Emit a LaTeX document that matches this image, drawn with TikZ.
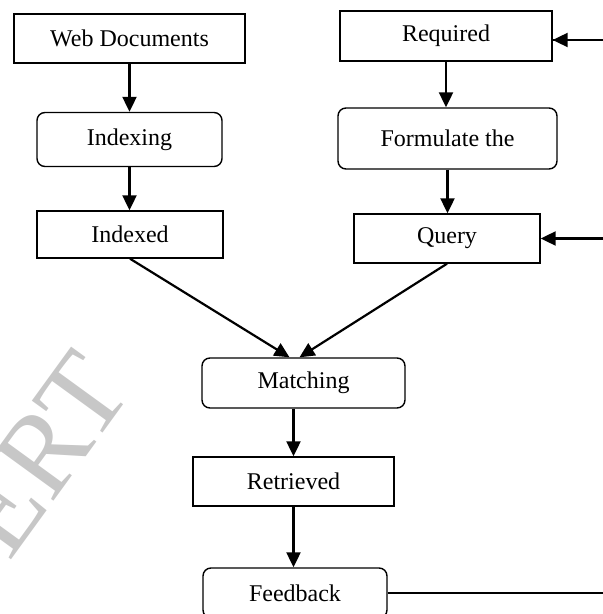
\documentclass[tikz,border=0pt]{standalone}
\usepackage{fontspec}
\setmainfont{Liberation Serif}
\usetikzlibrary{arrows.meta}

\begin{document}
\begin{tikzpicture}[x=0.5pt,y=-0.5pt,
    box/.style={draw,line width=0.7pt,minimum height=24.5pt,inner sep=0pt,
      font=\fontsize{12}{14}\selectfont},
    rbox/.style={box,rounded corners=4pt},
    flow/.style={line width=1.1pt,-{Triangle[length=7.5pt,width=7pt]}}]
    \useasboundingbox (0,0) rectangle (603,614);
    \clip (0,0) rectangle (603,614);

    % watermark
    \node[anchor=east,inner sep=0pt,rotate=54,text=black!22,
      font=\fontsize{58}{58}\selectfont] (mark) at (104,368) {ERT};

    % left column
    \node[box,minimum width=115.5pt] (web) at (129.5,38.5) {Web Documents};
    \node[rbox,minimum width=92.5pt,minimum height=27pt] (indexing) at (129.5,139.5) {Indexing};
    \node[box,minimum width=93pt,minimum height=23.5pt] (indexed) at (130,234.5) {Indexed};

    % right column
    \node[box,minimum width=106pt,minimum height=25pt] (required) at (446,36) {Required};
    \node[rbox,minimum width=109.5pt,minimum height=30.5pt] (formulate) at (447.5,138.5) {Formulate the};
    \node[box,minimum width=93pt] (query) at (447,238.5) {Query};

    % middle
    \node[rbox,minimum width=101.5pt,minimum height=25pt] (matching) at (303.5,383) {Matching};
    \node[box,minimum width=100.5pt] (retrieved) at (293.5,481.5) {Retrieved};
    \node[rbox,minimum width=92pt,minimum height=25pt] (feedback) at (295,593) {Feedback};

    \draw[flow] (web.south) -- (web.south |- indexing.north);
    \draw[flow] (indexing.south) -- (indexing.south |- indexed.north);
    \draw[flow] (required.south) -- (required.south |- formulate.north);
    \draw[flow] (formulate.south) -- (formulate.south |- query.north);

    \draw[flow] (indexed.south) -- ([xshift=-7pt]matching.north);
    \draw[flow] (query.south) -- ([xshift=-2pt]matching.north);

    \draw[flow] (matching.south -| retrieved.north) -- (retrieved.north);
    \draw[flow] (retrieved.south) -- (retrieved.south |- feedback.north);

    % feedback loop
    \coordinate (loop) at (640,0);
    \draw[line width=0.6pt] (feedback.east) -| (loop) |- ([yshift=-2pt]required.east);
    \draw[flow] (loop |- required.east) ++(0,4) -- ([yshift=-2pt]required.east);
    \draw[flow] (loop |- query.east) -- (query.east);
\end{tikzpicture}
\end{document}
